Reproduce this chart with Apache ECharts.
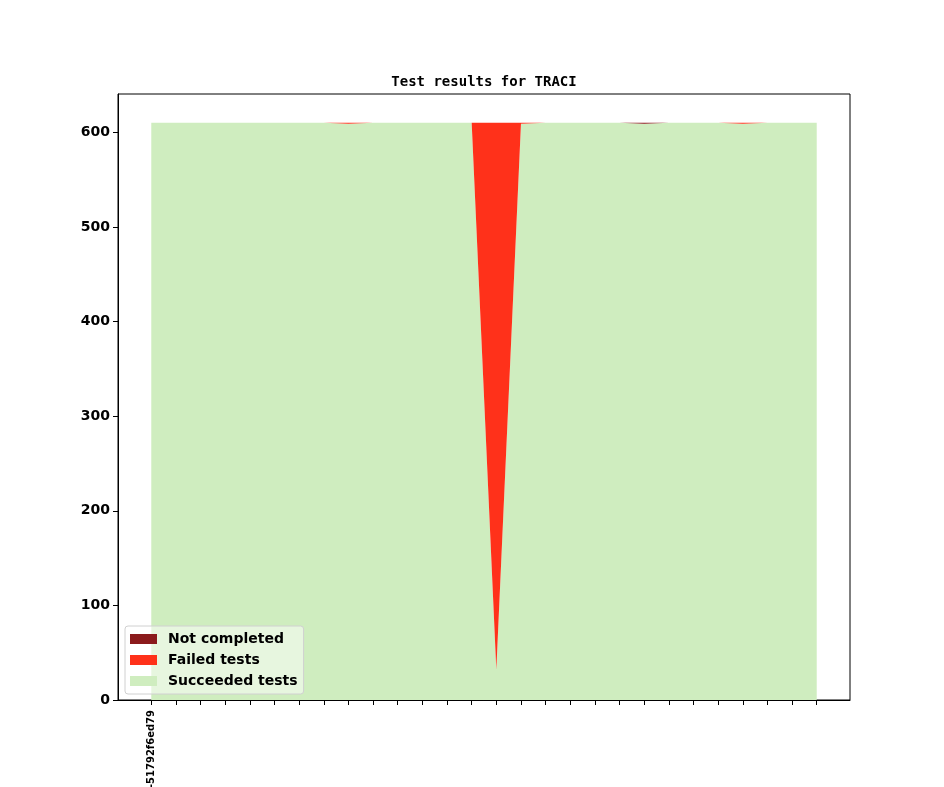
<!DOCTYPE html>
<html>
<head>
<meta charset="utf-8">
<script src="https://cdn.jsdelivr.net/npm/echarts@6/dist/echarts.min.js"></script>
<style>
  html, body { margin: 0; padding: 0; background: #fff; }
  #chart { width: 944px; height: 787px; }
</style>
</head>
<body>
<div id="chart"></div>
<script>
// one entry per run; only the first run has a label
const runLabels = ['-51792f6ed79', '', '', '', '', '', '', '', '', '', '', '', '', '', '',
    '', '', '', '', '', '', '', '', '', '', '', '', ''];
const succeeded = [610, 610, 610, 610, 610, 610, 610, 610, 609, 610, 610, 610, 610, 610, 32,
    609, 610, 610, 610, 610, 609, 610, 610, 610, 609, 610, 610, 610];
const failed = [0, 0, 0, 0, 0, 0, 0, 0, 1, 0, 0, 0, 0, 0, 578,
    1, 0, 0, 0, 0, 0, 0, 0, 0, 1, 0, 0, 0];
const notCompleted = [0, 0, 0, 0, 0, 0, 0, 0, 0, 0, 0, 0, 0, 0, 0,
    0, 0, 0, 0, 0, 1, 0, 0, 0, 0, 0, 0, 0];
const yTicks = [0, 100, 200, 300, 400, 500, 600];

const chart = echarts.init(document.getElementById('chart'));

const idx = runLabels.map((_, i) => i);
const toPoints = arr => arr.map((v, i) => [i, v]);

function areaSeries(name, data, color) {
    return {
        name: name,
        type: 'line',
        stack: 'total',
        xAxisIndex: 0,
        data: toPoints(data),
        color: color,
        showSymbol: false,
        symbol: 'none',
        lineStyle: { width: 0, opacity: 0 },
        areaStyle: { color: color, opacity: 1 },
        itemStyle: { color: color },
        emphasis: { disabled: true },
        animation: false,
        z: 1
    };
}

// matplotlib style 5% margins on both axes
const xMin = -0.05 * (runLabels.length - 1);
const xMax = (runLabels.length - 1) * 1.05;
const yMax = 610 * 1.05;

chart.setOption({
    animation: false,
    title: {
        text: 'Test results for TRACI',
        left: 479,
        textAlign: 'center',
        top: 70,
        textStyle: { fontFamily: 'DejaVu Sans Mono', fontWeight: 'bold', fontSize: 14, color: '#000' }
    },
    grid: {
        left: 118, top: 94, width: 732, height: 606,
        outerBoundsMode: 'none',
        containLabel: false,
        show: true, borderColor: '#000', borderWidth: 1, backgroundColor: '#fff'
    },
    legend: {
        orient: 'vertical',
        left: 125,
        top: 626,
        data: ['Not completed', 'Failed tests', 'Succeeded tests'],
        icon: 'rect',
        itemWidth: 27,
        itemHeight: 10,
        itemGap: 7,
        padding: [6, 6, 6, 5],
        backgroundColor: 'rgba(255,255,255,0.5)',
        borderColor: '#d0d0d0',
        borderWidth: 1,
        borderRadius: 3,
        textStyle: {
            fontFamily: 'DejaVu Sans', fontWeight: 'bold', fontSize: 14, color: '#000',
            padding: [0, 0, 0, 6]
        }
    },
    xAxis: [{
        // time axis carries the series so the stack is summed on y
        type: 'time',
        position: 'top',
        min: xMin,
        max: xMax,
        axisLine: { show: false },
        axisTick: { show: false },
        axisLabel: { show: false },
        splitLine: { show: false }
    }, {
        // same range, only used to draw the run ticks and label
        type: 'value',
        position: 'bottom',
        min: xMin,
        max: xMax,
        z: 5,
        splitLine: { show: false },
        axisLine: { show: true, onZero: false, lineStyle: { color: '#000', width: 1 } },
        axisTick: {
            show: true, inside: false, length: 5,
            customValues: idx,
            lineStyle: { color: '#000' }
        },
        axisLabel: {
            customValues: [0],
            rotate: 90,
            margin: 10,
            formatter: v => runLabels[Math.round(v)] || '',
            fontFamily: 'DejaVu Sans',
            fontWeight: 'bold',
            fontSize: 10,
            color: '#000'
        }
    }],
    yAxis: {
        type: 'value',
        min: 0,
        max: yMax,
        z: 5,
        splitLine: { show: false },
        axisLine: { show: true, onZero: false, lineStyle: { color: '#000', width: 1 } },
        axisTick: {
            show: true, inside: false, length: 5,
            customValues: yTicks,
            lineStyle: { color: '#000' }
        },
        axisLabel: {
            customValues: yTicks,
            margin: 8,
            fontFamily: 'DejaVu Sans',
            fontWeight: 'bold',
            fontSize: 14,
            color: '#000'
        }
    },
    series: [
        areaSeries('Succeeded tests', succeeded, '#cfedbf'),
        areaSeries('Failed tests', failed, '#ff311a'),
        areaSeries('Not completed', notCompleted, '#8b1a1c')
    ]
});
</script>
</body>
</html>
